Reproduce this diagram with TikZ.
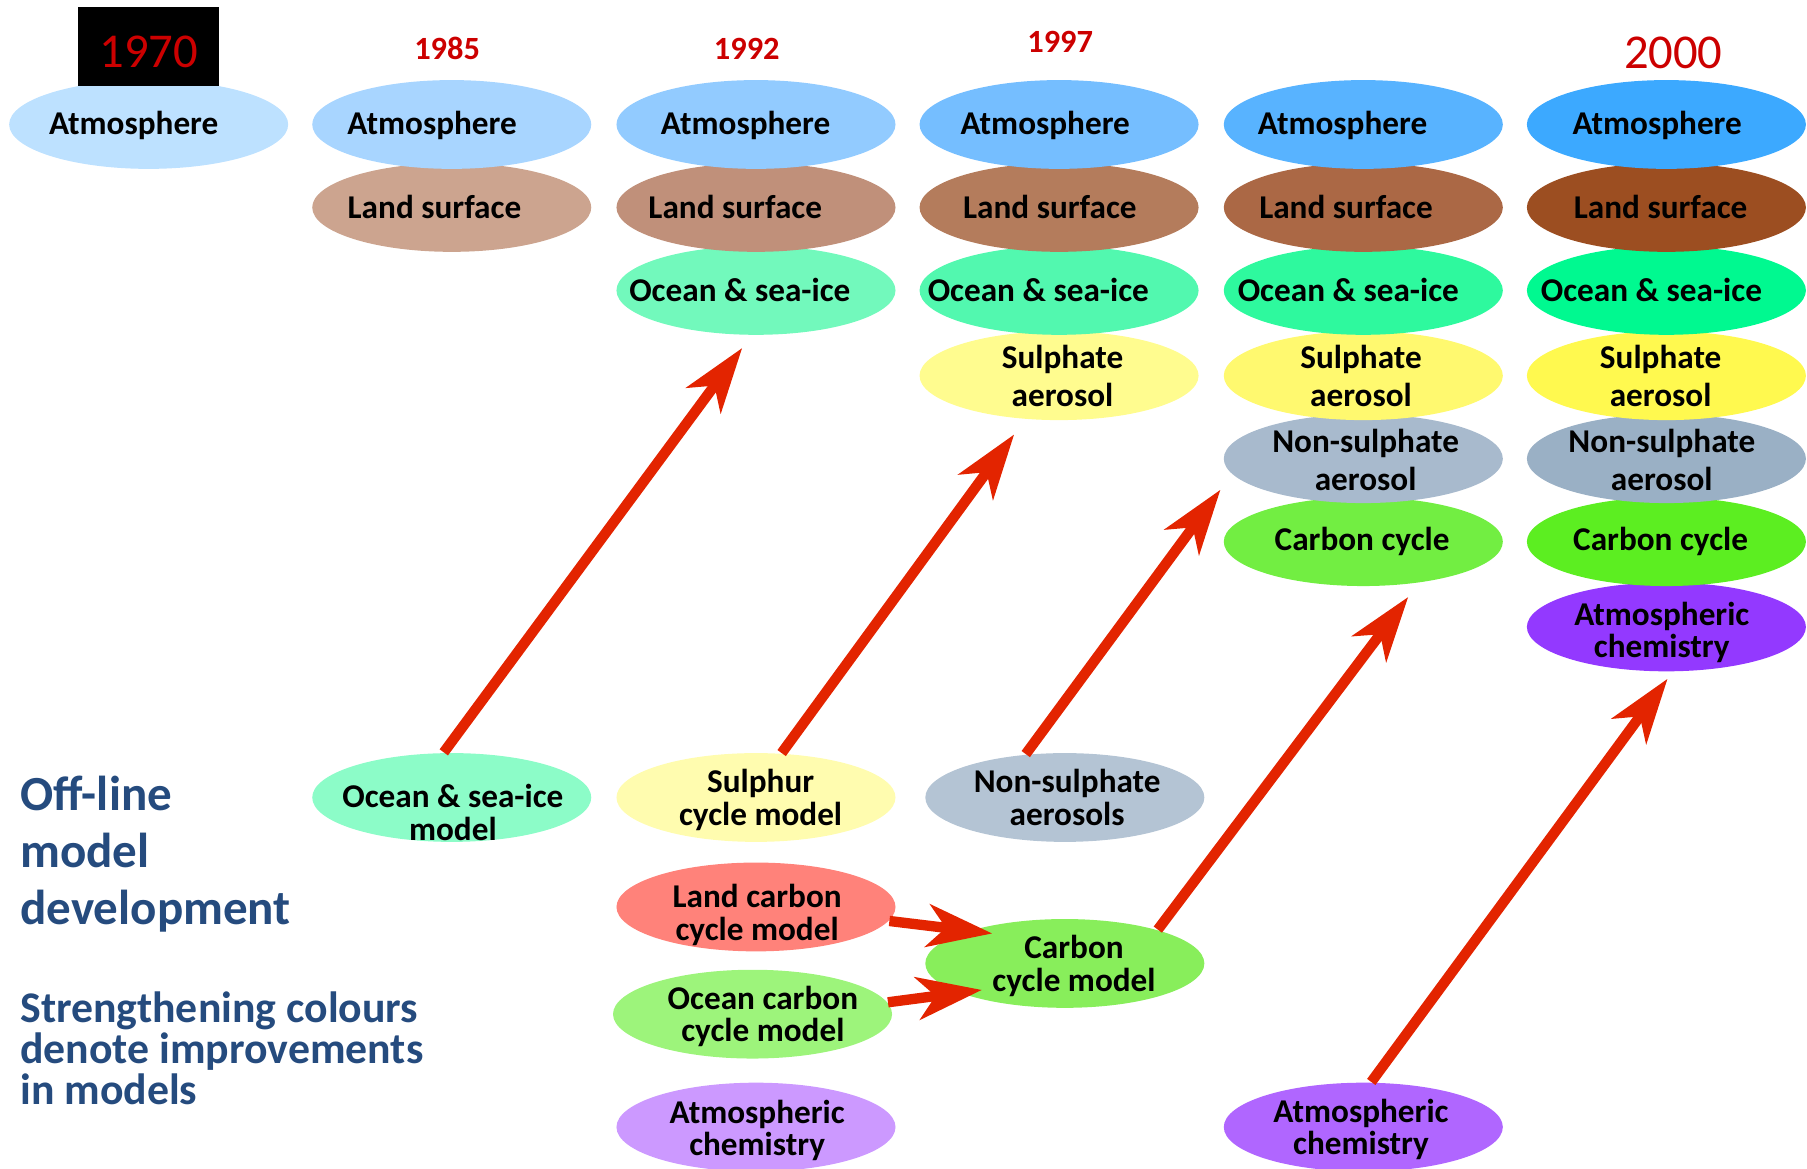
\documentclass[tikz,border=0pt]{standalone}
\usepackage{fontspec}
\setmainfont{Carlito}
\usetikzlibrary{shapes.geometric,arrows.meta}
\definecolor{yrred}{HTML}{CC0000}
\definecolor{arrred}{HTML}{E32400}
\definecolor{txtblue}{HTML}{254B7E}
\definecolor{atA}{HTML}{BDE1FF}
\definecolor{atB}{HTML}{A8D5FF}
\definecolor{atC}{HTML}{92CBFF}
\definecolor{atD}{HTML}{75BEFF}
\definecolor{atE}{HTML}{58B3FF}
\definecolor{atF}{HTML}{3CA9FF}
\definecolor{lsB}{HTML}{CCA48F}
\definecolor{lsC}{HTML}{C0907A}
\definecolor{lsD}{HTML}{B47C5C}
\definecolor{lsE}{HTML}{AB6845}
\definecolor{lsF}{HTML}{9C4E21}
\definecolor{ocC}{HTML}{72F9BC}
\definecolor{ocD}{HTML}{52F8AF}
\definecolor{ocE}{HTML}{2EF99E}
\definecolor{ocF}{HTML}{00F990}
\definecolor{suD}{HTML}{FFFC8F}
\definecolor{suE}{HTML}{FFF96F}
\definecolor{suF}{HTML}{FFF94F}
\definecolor{nsE}{HTML}{A8BACD}
\definecolor{nsF}{HTML}{9AB0C5}
\definecolor{ccE}{HTML}{72EE42}
\definecolor{ccF}{HTML}{5CEE21}
\definecolor{acF}{HTML}{9339FF}
\definecolor{osmC}{HTML}{8CFCC8}
\definecolor{scmC}{HTML}{FFFCAF}
\definecolor{nsaC}{HTML}{B4C4D4}
\definecolor{lcmC}{HTML}{FF827A}
\definecolor{ocmC}{HTML}{9DF47B}
\definecolor{acC}{HTML}{CC99FF}
\definecolor{ccmC}{HTML}{88EE5B}
\definecolor{acE}{HTML}{B066FF}
\begin{document}
\begin{tikzpicture}[x=0.01cm,y=-0.01cm,
  blob/.style={ellipse, minimum width=2.42cm, minimum height=0.77cm, inner sep=-2cm},
  lab/.style={inner sep=0pt, align=center, font=\fontsize{8.2}{8}\selectfont\bfseries},
  tlab/.style={lab, font=\fontsize{8.2}{9.4}\selectfont\bfseries},
  yr/.style={text=yrred, font=\fontsize{8}{9}\selectfont\bfseries, inner sep=0pt},
  bigyr/.style={text=yrred, font=\fontsize{12}{14}\selectfont, inner sep=0pt},
  redarrow/.style={draw=arrred, line width=2.55pt, -{Stealth[length=16pt,width=10.5pt,inset=4.5pt]}}
]
\useasboundingbox (0,0) rectangle (1568,1014);

% 1970
\node[blob, fill=atA] (at1) at (129,108) {};
\node[lab] (at1t) at (116,109) {Atmosphere};
\node[fill=black, minimum width=1.22cm, minimum height=0.69cm, inner sep=0pt] (box1970) at (129,40.5) {};
\node[bigyr] (y1970) at (129,45) {1970};

% 1985
\node[yr] (y1985) at (388,42) {1985};
\node[blob, fill=lsB] (ls2) at (392,180) {};
\node[lab] (ls2t) at (377,180) {Land surface};
\node[blob, fill=atB] (at2) at (392,108) {};
\node[lab] (at2t) at (375,109) {Atmosphere};

% 1992
\node[yr] (y1992) at (648,42) {1992};
\node[blob, fill=ocC] (oc3) at (656,252) {};
\node[lab] (oc3t) at (642,252) {Ocean \& sea-ice};
\node[blob, fill=lsC] (ls3) at (656,180) {};
\node[lab] (ls3t) at (638,180) {Land surface};
\node[blob, fill=atC] (at3) at (656,108) {};
\node[lab] (at3t) at (647,109) {Atmosphere};

% 1997
\node[yr] (y1997) at (920,36) {1997};
\node[blob, fill=suD] (su4) at (919,326) {};
\node[tlab] (su4t) at (922,326) {Sulphate\\aerosol};
\node[blob, fill=ocD] (oc4) at (919,252) {};
\node[lab] (oc4t) at (901,252) {Ocean \& sea-ice};
\node[blob, fill=lsD] (ls4) at (919,180) {};
\node[lab] (ls4t) at (911,180) {Land surface};
\node[blob, fill=atD] (at4) at (919,108) {};
\node[lab] (at4t) at (907,109) {Atmosphere};

% column 5
\node[blob, fill=ccE] (cc5) at (1183,470) {};
\node[lab] (cc5t) at (1182,470) {Carbon cycle};
\node[blob, fill=nsE] (ns5) at (1183,398) {};
\node[tlab] (ns5t) at (1185,399) {Non-sulphate\\aerosol};
\node[blob, fill=suE] (su5) at (1183,326) {};
\node[tlab] (su5t) at (1181,326) {Sulphate\\aerosol};
\node[blob, fill=ocE] (oc5) at (1183,252) {};
\node[lab] (oc5t) at (1170,252) {Ocean \& sea-ice};
\node[blob, fill=lsE] (ls5) at (1183,180) {};
\node[lab] (ls5t) at (1168,180) {Land surface};
\node[blob, fill=atE] (at5) at (1183,108) {};
\node[lab] (at5t) at (1165,109) {Atmosphere};

% 2000
\node[bigyr] (y2000) at (1452,46) {2000};
\node[blob, fill=acF] (ac6) at (1446,544) {};
\node[lab] (ac6t) at (1442,549) {Atmospheric\\chemistry};
\node[blob, fill=ccF] (cc6) at (1446,470) {};
\node[lab] (cc6t) at (1441,470) {Carbon cycle};
\node[blob, fill=nsF] (ns6) at (1446,398) {};
\node[tlab] (ns6t) at (1442,399) {Non-sulphate\\aerosol};
\node[blob, fill=suF] (su6) at (1446,326) {};
\node[tlab] (su6t) at (1441,326) {Sulphate\\aerosol};
\node[blob, fill=ocF] (oc6) at (1446,252) {};
\node[lab] (oc6t) at (1433,252) {Ocean \& sea-ice};
\node[blob, fill=lsF] (ls6) at (1446,180) {};
\node[lab] (ls6t) at (1441,180) {Land surface};
\node[blob, fill=atF] (at6) at (1446,108) {};
\node[lab] (at6t) at (1438,109) {Atmosphere};

% off-line models
\node[blob, fill=osmC] (osm) at (392,692) {};
\node[lab] (osmt) at (393,705) {Ocean \& sea-ice\\model};
\node[blob, fill=scmC] (scm) at (656,692) {};
\node[lab] (scmt) at (660,694) {Sulphur\\cycle model};
\node[blob, fill=nsaC] (nsa) at (924,692) {};
\node[lab] (nsat) at (926,692) {Non-sulphate\\aerosols};
\node[blob, fill=lcmC] (lcm) at (656,787) {};
\node[lab] (lcmt) at (657,794) {Land carbon\\cycle model};
\node[blob, fill=ocmC] (ocm) at (653,880) {};
\node[lab] (ocmt) at (662,882) {Ocean carbon\\cycle model};
\node[blob, fill=acC] (ac3) at (656,978) {};
\node[lab] (ac3t) at (657,981) {Atmospheric\\chemistry};
\node[blob, fill=ccmC] (ccm) at (924,836) {};
\node[lab] (ccmt) at (932,838) {Carbon\\cycle model};
\node[blob, fill=acE] (ac5) at (1183,978) {};
\node[lab] (ac5t) at (1181,980) {Atmospheric\\chemistry};

% left texts
\node[anchor=north west, align=left, inner sep=0pt, text=txtblue,
  font=\fontsize{12.1}{14}\selectfont\bfseries] (offline) at (17,673) {Off-line\\model\\development};
\node[anchor=north west, align=left, inner sep=0pt, text=txtblue,
  font=\fontsize{10.8}{10.1}\selectfont\bfseries] (legend) at (17,860) {Strengthening colours\\denote improvements\\in models};

% arrows
\coordinate (t1) at (644,302);
\coordinate (t2) at (880,377);
\coordinate (t3) at (1059,425);
\coordinate (t4) at (1222,518);
\coordinate (t5) at (1447,589);
\coordinate (t6) at (861,810);
\coordinate (t7) at (852,859);
\draw[redarrow] (osm.100) -- (t1);
\draw[redarrow] (scm.60) -- (t2);
\draw[redarrow] (nsa.132) -- (t3);
\draw[redarrow] (ccm.20) -- (t4);
\draw[redarrow] (ac5.80) -- (t5);
\draw[redarrow] (lcm.-6) -- (t6);
\draw[redarrow] (ocm.5) -- (t7);
\end{tikzpicture}
\end{document}
